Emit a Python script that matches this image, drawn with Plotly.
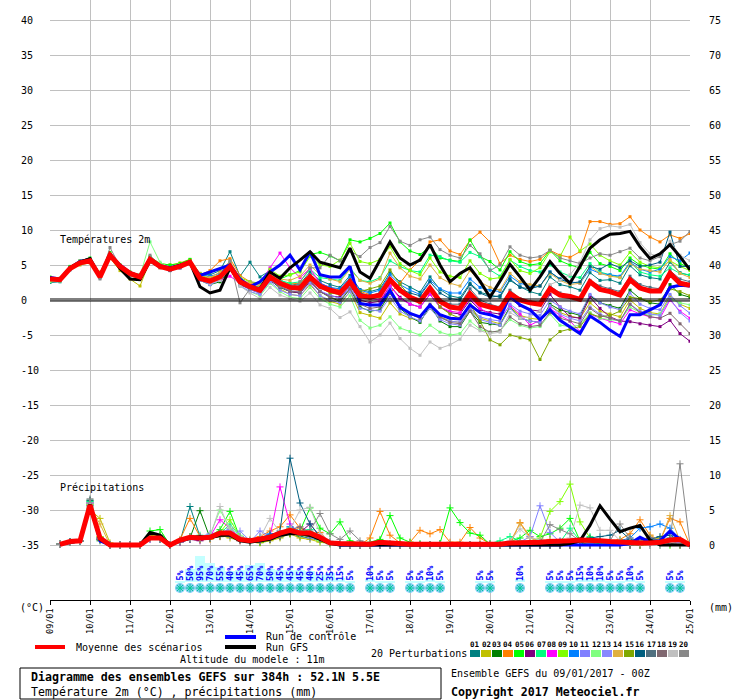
import plotly.graph_objects as go

# GEFS ensemble 09/01/2017 00Z, 52.1N 5.5E -- 2m temperature and 6h precipitation
hours = list(range(0, 385, 6))
precip_hours = hours[1:]
day_hours = list(range(0, 385, 24))
day_labels = ["09/01", "10/01", "11/01", "12/01", "13/01", "14/01", "15/01", "16/01", "17/01",
              "18/01", "19/01", "20/01", "21/01", "22/01", "23/01", "24/01", "25/01"]

# temperature 2m (°C), one value every 6h
t_mean = [3.0, 2.9, 4.5, 5.3, 5.6, 3.3, 6.4, 4.8, 3.8, 3.3, 5.8, 4.8, 4.4,
          4.8, 5.4, 3.1, 2.7, 3.3, 4.8, 2.6, 1.9, 1.4, 3.3, 2.4, 1.8, 1.7,
          3.3, 2.0, 1.4, 1.0, 2.6, 0.6, 0.4, 0.7, 2.9, 1.4, 0.4, -0.2, 1.7,
          -0.2, -1.0, -1.2, 0.9, -0.6, -1.0, -1.3, 0.9, 0.0, -0.4, -0.6, 1.6, 0.7,
          0.5, 0.1, 2.6, 1.5, 1.2, 0.7, 2.9, 1.7, 1.3, 1.3, 3.8, 2.4, 2.1]
t_gfs = [3.1, 2.9, 4.6, 5.4, 5.9, 3.4, 6.6, 4.5, 3.0, 2.9, 5.6, 4.7, 4.5,
         4.9, 5.4, 1.9, 1.0, 1.4, 4.6, 2.5, 1.8, 1.6, 4.0, 3.1, 4.6, 5.7,
         6.9, 5.4, 5.0, 4.6, 7.4, 4.0, 3.1, 5.7, 8.3, 6.0, 5.0, 5.7, 7.9,
         5.0, 2.6, 3.8, 4.6, 2.7, 0.4, 2.7, 5.1, 3.3, 1.4, 3.3, 5.5, 3.8,
         2.4, 4.8, 7.4, 8.6, 9.4, 9.5, 9.8, 7.6, 5.9, 6.6, 7.9, 6.2, 4.3]
t_ctrl = [3.2, 3.0, 4.6, 5.5, 5.8, 3.4, 6.5, 5.0, 3.9, 3.4, 5.9, 4.9, 4.6,
          4.9, 5.3, 3.5, 4.0, 4.5, 5.0, 3.0, 1.9, 2.6, 4.0, 5.0, 6.4, 4.3,
          6.9, 3.6, 3.3, 3.3, 4.8, -0.5, -0.7, -0.7, 1.4, -1.0, -1.9, -2.4, -0.7,
          -2.1, -2.6, -2.7, -0.7, -1.8, -2.1, -2.6, 0.7, -0.7, -1.4, -2.8, -1.4, -2.9,
          -3.8, -4.8, -2.3, -3.2, -4.3, -5.2, -2.1, -2.1, -1.4, -0.7, 1.8, 2.1, 2.0]

t_p01 = [2.5, 2.6, 4.3, 5.2, 5.5, 3.2, 6.3, 4.7, 3.7, 3.4, 5.7, 4.9, 4.6,
         5.0, 5.5, 3.8, 3.6, 4.2, 6.9, 3.4, 5.4, 3.3, 4.2, 2.9, 2.1, 2.3,
         4.0, 2.8, 2.2, 1.8, 3.5, 1.5, 1.2, 1.6, 3.9, 2.6, 1.8, 1.1, 3.3,
         1.5, 0.6, 0.3, 2.4, 1.1, 0.7, 0.4, 2.8, 1.9, 1.2, 0.8, 3.3, 2.2,
         1.9, 1.4, 3.9, 2.8, 2.9, 2.4, 4.9, 3.6, 3.2, 3.0, 5.4, 3.9, 3.5]
t_p02 = [3.2, 3.0, 4.4, 5.0, 5.3, 4.0, 6.0, 4.2, 3.0, 2.0, 5.6, 5.2, 5.0,
         5.3, 5.8, 3.8, 3.2, 3.6, 5.2, 3.0, 2.2, 1.6, 3.0, 1.6, 0.8, 0.6,
         2.2, 0.6, -0.2, -0.6, 1.2, -1.8, -2.2, -2.6, -0.4, -2.0, -2.6, -3.0, -1.2,
         -2.4, -3.0, -3.2, -1.4, -2.6, -3.0, -3.4, -1.0, -2.2, -2.6, -2.8, -0.8, -1.8,
         -2.3, -2.6, -0.4, -1.6, -2.0, -2.4, 0.0, -1.2, -1.8, -2.0, 0.6, -0.6, -1.2]
t_p03 = [3.1, 2.9, 4.6, 5.4, 5.7, 3.4, 6.3, 4.9, 3.9, 3.4, 5.9, 4.7, 4.2,
         4.6, 5.2, 2.8, 2.2, 2.6, 4.4, 2.2, 1.6, 1.0, 2.8, 1.8, 1.2, 1.0,
         2.8, 1.2, 0.4, -0.2, 1.6, -1.0, -1.6, -1.4, 1.0, -1.2, -2.4, -3.2, -0.8,
         -3.0, -3.8, -3.8, -1.6, -3.2, -3.4, -3.6, -1.0, -2.6, -3.0, -3.2, -0.6, -1.4,
         -1.8, -2.2, 0.6, -0.4, -0.8, -1.2, 1.4, 0.2, -0.4, -0.6, 2.2, 0.8, 0.4]
t_p04 = [3.0, 2.8, 4.5, 5.2, 5.5, 3.4, 6.2, 4.6, 3.5, 3.0, 5.5, 4.6, 4.3,
         4.9, 5.6, 3.6, 4.2, 5.6, 5.9, 3.5, 2.6, 2.0, 3.6, 2.6, 2.3, 2.4,
         3.6, 2.2, 1.8, 1.4, 2.8, 1.2, 0.8, 0.4, 1.0, 2.4, 4.3, 5.7, 8.3,
         8.6, 7.0, 6.5, 8.5, 9.7, 8.3, 5.2, 6.4, 5.8, 5.5, 5.8, 7.1, 6.4,
         6.1, 6.9, 11.2, 11.2, 10.8, 10.9, 11.9, 10.0, 9.0, 8.3, 9.3, 8.8, 9.5]
t_p05 = [3.3, 3.1, 4.8, 5.6, 6.0, 3.6, 6.8, 5.0, 4.0, 3.6, 6.2, 5.2, 5.0,
         5.2, 5.8, 3.6, 3.0, 3.4, 5.0, 2.8, 2.0, 1.8, 3.8, 3.0, 3.6, 4.2,
         6.5, 6.8, 6.3, 5.6, 8.6, 8.3, 8.8, 9.5, 11.0, 8.3, 7.0, 6.5, 7.6,
         6.0, 5.7, 5.5, 8.6, 6.2, 5.5, 4.3, 6.9, 5.5, 5.0, 5.2, 7.1, 5.6,
         5.0, 4.6, 6.8, 5.2, 4.8, 4.2, 6.0, 5.0, 4.6, 4.4, 6.6, 5.2, 4.6]
t_p06 = [3.0, 3.0, 4.4, 5.2, 5.5, 3.2, 6.4, 4.7, 3.7, 3.2, 5.6, 4.7, 4.3,
         4.6, 5.2, 3.0, 2.5, 3.0, 4.4, 2.2, 1.5, 1.0, 2.8, 1.9, 1.2, 1.0,
         2.6, 1.2, 0.6, 0.4, 2.0, 0.0, -0.4, -0.2, 2.0, 0.4, -0.6, -1.0, 0.8,
         -1.0, -1.8, -2.0, 0.0, -1.4, -1.8, -2.0, 0.2, -0.8, -1.4, -1.6, 0.8, -1.0,
         -2.4, -2.6, 0.4, -1.2, -2.4, -3.0, -3.1, -3.4, -3.6, -3.8, -2.9, -4.8, -5.9]
t_p07 = [3.0, 2.9, 4.6, 5.4, 5.7, 3.3, 6.6, 4.9, 3.9, 3.4, 6.0, 4.9, 4.4,
         4.9, 5.5, 3.2, 2.8, 3.4, 5.0, 2.8, 2.2, 1.8, 3.8, 2.8, 2.4, 2.6,
         4.4, 3.2, 3.0, 2.8, 4.6, 2.8, 2.6, 3.2, 5.6, 4.8, 4.2, 4.0, 6.4,
         6.2, 5.6, 5.4, 6.8, 6.2, 4.3, 3.4, 5.7, 4.8, 4.2, 4.0, 5.0, 4.0,
         3.4, 3.2, 5.2, 4.0, 3.6, 3.2, 5.4, 4.0, 3.6, 3.4, 4.6, 3.8, 3.6]
t_p08 = [3.1, 3.0, 4.6, 5.3, 5.7, 3.4, 6.5, 4.9, 3.9, 3.4, 5.8, 4.9, 4.5,
         4.8, 5.3, 3.0, 2.6, 2.8, 3.4, 2.4, 2.6, 2.4, 4.6, 6.7, 4.6, 3.2,
         4.5, 2.4, 1.8, 1.2, 2.8, 0.4, 0.2, 0.0, 2.0, 0.2, -0.6, -1.0, 0.8,
         -1.0, -1.6, -1.8, 0.2, -1.2, -2.0, -2.6, -0.8, -2.0, -3.6, -2.9, -1.2, -2.2,
         -3.0, -4.5, -2.0, -2.6, -3.0, -3.4, -1.4, -2.0, -2.4, -2.6, 0.0, -1.6, -2.6]
t_p09 = [3.0, 2.9, 4.7, 5.4, 5.8, 3.4, 6.6, 5.0, 3.9, 3.3, 6.0, 5.0, 4.6,
         5.0, 5.6, 3.4, 3.0, 3.6, 5.3, 3.2, 2.6, 2.4, 4.4, 3.4, 3.6, 4.0,
         6.2, 5.0, 4.8, 5.7, 8.1, 5.5, 5.2, 5.8, 7.6, 5.2, 4.2, 3.6, 6.0,
         4.0, 3.4, 3.2, 5.6, 3.8, 3.0, 3.2, 5.8, 4.2, 3.8, 4.6, 6.9, 6.2,
         9.0, 7.0, 8.0, 6.4, 5.6, 5.0, 6.8, 5.4, 4.8, 4.6, 5.6, 4.8, 4.2]
t_p10 = [3.1, 3.0, 4.6, 5.4, 5.7, 3.4, 6.4, 4.8, 3.8, 3.4, 5.9, 4.9, 4.5,
         4.9, 5.5, 3.6, 3.4, 3.8, 5.4, 3.0, 2.2, 1.6, 3.4, 2.6, 2.0, 2.0,
         3.6, 2.4, 1.8, 1.6, 3.2, 1.4, 1.0, 1.4, 3.6, 2.2, 1.4, 0.8, 2.8,
         1.6, 1.0, 1.0, 3.0, 1.8, 1.4, 1.2, 3.4, 2.4, 2.0, 2.0, 4.0, 3.0,
         2.6, 2.4, 4.4, 3.8, 3.6, 3.4, 5.4, 4.4, 4.0, 4.4, 6.2, 5.6, 6.7]
t_p11 = [3.0, 2.9, 4.5, 5.3, 5.6, 3.2, 6.3, 4.7, 3.7, 3.2, 5.7, 4.7, 4.3,
         4.7, 5.3, 2.9, 2.4, 3.0, 4.6, 2.3, 1.5, 1.0, 2.9, 1.9, 1.3, 1.2,
         2.8, 1.3, 0.7, 0.2, 1.8, -0.4, -0.8, -0.6, 1.6, -0.8, -2.0, -2.6, -0.8,
         -2.6, -3.0, -3.2, -1.2, -2.4, -2.8, -3.0, -0.6, -1.6, -2.0, -2.2, 0.0, -1.0,
         -1.6, -2.0, 0.8, -0.4, -1.0, -1.4, 1.0, -0.6, -1.2, -1.4, 0.8, -0.8, -1.9]
t_p12 = [2.6, 2.7, 4.5, 5.3, 5.6, 3.4, 6.6, 5.0, 3.8, 3.4, 8.3, 5.4, 4.6,
         5.0, 5.4, 3.0, 2.4, 2.8, 4.4, 2.0, 1.2, 0.6, 2.4, 1.2, 0.4, 0.2,
         1.8, 0.2, -0.6, -1.0, 0.6, -2.9, -4.0, -3.6, -2.4, -4.0, -4.5, -5.0, -3.6,
         -4.6, -5.0, -4.8, -3.0, -4.2, -4.6, -4.4, -2.8, -3.6, -4.0, -3.8, -2.0, -3.6,
         -3.8, -3.6, -1.8, -2.6, -2.8, -3.0, -1.0, -1.8, -2.2, -2.0, 0.2, -0.4, -0.7]
t_p13 = [3.0, 2.8, 4.4, 5.2, 5.5, 3.2, 6.2, 4.6, 3.6, 3.1, 5.6, 4.6, 4.2,
         4.6, 5.1, 2.8, 2.2, 2.8, 4.4, 2.0, 1.2, 0.8, 2.6, 1.4, 0.8, 0.6,
         2.4, 0.6, 0.0, -0.4, 1.2, -1.2, -1.4, -1.6, 0.4, -1.6, -2.4, -3.0, -1.2,
         -2.8, -3.4, -3.6, -1.4, -2.8, -3.2, -3.6, -1.2, -2.6, -3.0, -3.2, -0.8, -2.0,
         -2.6, -3.0, -1.0, -2.0, -2.6, -3.0, -0.6, -1.6, -2.0, -2.2, 0.2, -1.8, -3.0]
t_p14 = [3.1, 2.9, 4.5, 5.2, 5.4, 3.2, 6.2, 4.6, 3.6, 3.2, 5.4, 4.6, 4.4,
         4.8, 5.4, 3.4, 3.2, 4.0, 5.6, 3.0, 2.4, 2.0, 3.8, 3.0, 2.8, 3.4,
         5.0, 3.6, 3.0, 2.6, 4.4, 2.8, 2.4, 3.0, 6.7, 4.6, 3.4, 3.0, 5.0,
         3.2, 2.4, 2.0, 4.2, 2.6, 1.8, 1.4, 3.8, 2.6, 2.2, 2.0, 3.8, 2.8,
         2.2, 2.4, 4.8, 3.8, 3.4, 3.2, 5.2, 4.4, 4.2, 4.0, 5.8, 3.8, 3.2]
t_p15 = [3.0, 2.9, 4.5, 5.3, 5.6, 3.3, 6.3, 4.7, 3.7, 3.3, 5.8, 4.8, 4.4,
         4.8, 5.3, 3.0, 2.6, 3.2, 4.8, 2.6, 1.8, 1.4, 3.2, 2.2, 1.6, 1.4,
         3.2, 1.8, 1.0, 0.8, 2.6, 1.2, 1.6, 2.0, 4.3, 2.2, 0.6, -0.4, 1.4,
         -1.0, -2.0, -2.6, -0.6, -3.0, -5.7, -6.4, -5.0, -5.4, -5.7, -8.5, -5.7, -4.5,
         -4.2, -3.8, -2.0, -2.4, -2.2, -1.6, 0.4, 0.2, -0.2, 0.0, 1.6, 1.2, 0.6]
t_p16 = [3.1, 3.0, 4.7, 5.4, 5.6, 3.4, 6.4, 4.8, 3.8, 3.5, 5.8, 4.8, 4.3,
         4.7, 5.2, 3.2, 2.8, 3.2, 4.6, 2.6, 2.0, 1.6, 3.2, 2.4, 1.8, 1.6,
         3.2, 2.0, 1.6, 1.2, 2.8, 1.0, 0.6, 1.0, 3.0, 1.6, 1.0, 0.6, 2.6,
         1.0, 0.2, 0.0, 2.2, 1.0, 0.4, 0.6, 3.0, 1.8, 1.6, 2.0, 4.0, 3.0,
         2.4, 2.6, 4.8, 4.4, 5.2, 4.6, 5.6, 4.8, 5.0, 5.4, 9.7, 4.8, 4.8]
t_p17 = [3.0, 2.9, 4.6, 5.3, 5.5, 3.3, 6.4, 4.8, 3.8, 3.3, 5.9, 4.8, 4.4,
         4.8, 5.4, 3.2, 2.8, 3.4, 5.0, 2.8, 2.0, 1.6, 3.4, 2.4, 1.8, 1.8,
         3.4, 2.2, 1.6, 1.2, 2.8, 0.6, 0.2, 0.8, 2.8, 1.2, 0.2, -0.4, 1.6,
         0.0, -0.6, -0.6, 1.6, 0.0, -0.6, -1.0, 1.4, 0.2, -0.2, -0.4, 2.0, 1.0,
         0.6, 0.2, 2.8, 2.0, 1.6, 1.2, 3.4, 2.2, 1.8, 1.6, 4.2, 3.0, 2.6]
t_p18 = [3.0, 2.9, 4.5, 5.3, 5.6, 3.3, 6.2, 4.7, 3.7, 3.3, 5.7, 4.7, 4.3,
         4.7, 5.3, 3.0, 2.5, 3.0, 4.6, 2.4, 1.6, 1.2, 3.0, 1.9, 1.3, 1.1,
         2.8, 1.2, 0.4, 0.0, 1.6, -0.6, -1.2, -1.0, 1.0, -1.0, -2.0, -2.6, -0.6,
         -2.4, -3.2, -3.4, -1.6, -3.8, -4.6, -4.4, -2.4, -3.4, -3.8, -3.6, -1.8, -2.6,
         -3.0, -3.4, -1.2, -2.2, -2.6, -3.0, -0.6, -1.8, -2.4, -2.6, -1.9, -3.4, -4.8]
t_p19 = [3.0, 2.9, 4.5, 5.3, 5.6, 3.3, 6.3, 4.8, 3.7, 3.3, 5.8, 4.8, 4.4,
         4.7, 5.2, 2.9, 2.4, 2.8, 4.4, 2.0, 1.0, 0.2, 1.8, 0.7, 0.2, -0.2,
         1.0, -0.7, -1.2, -2.5, -1.7, -3.8, -6.0, -5.0, -3.3, -5.5, -6.9, -7.9, -6.0,
         -6.9, -6.4, -5.6, -3.6, -4.4, -4.8, -4.6, -1.8, -2.6, -2.4, -1.6, 2.2, 2.8,
         3.6, 5.4, 8.6, 10.2, 10.6, 10.4, 10.8, 8.2, 6.6, 6.2, 8.4, 6.4, 5.6]
t_p20 = [3.0, 2.9, 4.6, 5.6, 5.9, 3.0, 7.5, 4.8, 3.4, 3.3, 6.4, 4.8, 4.4,
         4.8, 5.4, 3.0, 2.6, 3.2, 5.6, -0.4, 1.6, 1.8, 3.6, 2.0, 1.6, 2.6,
         4.6, 4.6, 6.4, 5.6, 7.0, 6.2, 7.5, 8.2, 10.5, 8.4, 7.8, 8.6, 9.0,
         7.2, 6.4, 6.0, 7.8, 6.6, 4.2, 5.0, 7.6, 6.4, 6.0, 6.2, 7.1, 6.0,
         5.6, 5.2, 6.0, 6.6, 6.4, 6.9, 7.4, 6.0, 5.6, 6.2, 7.9, 8.4, 9.8]

# precipitation (mm / 6h), from +6h
r_mean = [0.1, 0.5, 0.6, 5.7, 1.0, 0.0, 0.0, 0.0, 0.0, 1.0, 1.0, 0.0, 0.7, 1.1, 1.0, 1.1,
          1.7, 1.7, 0.8, 0.6, 0.8, 1.1, 1.7, 2.1, 1.7, 1.7, 1.1, 0.3, 0.2, 0.2, 0.1, 0.1,
          0.4, 0.3, 0.1, 0.1, 0.1, 0.1, 0.2, 0.1, 0.1, 0.1, 0.1, 0.1, 0.1, 0.3, 0.3, 0.3,
          0.4, 0.5, 0.5, 0.6, 0.7, 0.7, 0.6, 0.5, 0.4, 0.3, 0.3, 0.3, 0.4, 0.7, 0.8, 0.0]
r_gfs = [0.1, 0.4, 0.6, 5.8, 0.8, 0.0, 0.0, 0.0, 0.0, 1.8, 1.4, 0.0, 0.6, 1.0, 1.2, 1.0,
         1.4, 1.4, 0.6, 0.4, 0.6, 0.8, 1.4, 1.6, 1.6, 1.4, 0.8, 0.2, 0.0, 0.0, 0.0, 0.0,
         0.0, 0.0, 0.0, 0.0, 0.0, 0.0, 0.0, 0.0, 0.0, 0.0, 0.0, 0.0, 0.0, 0.0, 0.0, 0.0,
         0.0, 0.0, 0.0, 0.2, 0.6, 2.8, 5.6, 3.7, 1.9, 2.4, 2.8, 0.7, 0.0, 0.0, 0.0, 0.0]
r_ctrl = [0.1, 0.4, 0.6, 5.8, 0.6, 0.0, 0.0, 0.0, 0.0, 1.0, 1.0, 0.0, 0.6, 1.0, 1.0, 1.2,
          1.6, 1.6, 0.8, 0.6, 0.6, 1.0, 1.6, 2.0, 1.8, 1.4, 1.0, 0.4, 0.0, 0.0, 0.0, 0.0,
          0.0, 0.0, 0.0, 0.0, 0.0, 0.0, 0.0, 0.0, 0.0, 0.0, 0.0, 0.0, 0.0, 0.0, 0.0, 0.0,
          0.0, 0.0, 0.0, 0.0, 0.0, 0.0, 0.0, 0.0, 0.0, 0.2, 1.1, 0.4, 0.6, 2.0, 0.8, 0.0]

r_p01 = [0.1, 0.5, 0.6, 6.2, 0.8, 0.0, 0.0, 0.0, 0.0, 1.2, 0.8, 0.0, 0.5, 5.5, 1.2, 1.0,
         1.6, 2.0, 1.2, 0.5, 0.6, 0.8, 1.5, 1.8, 1.2, 1.0, 0.6, 0.2, 0.0, 0.2, 0.1, 0.0,
         0.6, 0.2, 0.0, 0.0, 0.0, 0.0, 0.2, 0.0, 0.0, 0.0, 0.0, 0.0, 0.0, 0.2, 0.0, 0.0,
         0.0, 0.6, 0.2, 0.0, 0.0, 0.0, 0.0, 0.0, 0.0, 0.4, 0.6, 0.3, 0.4, 1.0, 0.6, 0.0]
r_p02 = [0.1, 0.4, 0.5, 5.0, 3.8, 0.3, 0.0, 0.0, 0.0, 0.8, 1.0, 0.0, 0.4, 0.8, 0.8, 1.2,
         1.4, 1.0, 0.6, 0.4, 0.3, 0.6, 1.0, 1.6, 1.0, 0.8, 0.4, 0.2, 0.1, 0.0, 0.0, 0.0,
         0.1, 0.0, 0.0, 0.0, 0.0, 0.0, 0.0, 0.0, 0.0, 0.0, 0.0, 0.0, 0.0, 0.4, 0.2, 0.0,
         0.0, 0.3, 0.0, 0.2, 0.4, 0.6, 0.3, 0.0, 0.0, 0.0, 0.2, 0.6, 1.0, 0.6, 0.3, 0.0]
r_p03 = [0.1, 0.5, 0.6, 6.4, 0.6, 0.0, 0.0, 0.0, 0.0, 1.0, 1.4, 0.0, 0.6, 1.0, 4.9, 1.0,
         1.8, 1.4, 0.8, 0.4, 0.4, 0.8, 1.2, 1.6, 1.6, 1.2, 0.8, 0.2, 0.0, 0.0, 0.0, 0.0,
         0.0, 0.0, 0.0, 0.0, 0.0, 0.0, 0.0, 0.0, 0.0, 0.0, 0.0, 0.0, 0.0, 0.0, 0.0, 0.0,
         0.0, 0.0, 0.0, 0.0, 0.4, 0.0, 0.0, 0.0, 0.0, 0.0, 0.0, 0.0, 0.0, 0.4, 0.2, 0.0]
r_p04 = [0.1, 0.4, 0.6, 5.6, 1.2, 0.0, 0.0, 0.0, 0.0, 1.0, 0.8, 0.0, 0.8, 3.8, 1.2, 0.8,
         1.4, 1.8, 1.0, 0.8, 1.2, 2.0, 2.6, 4.3, 2.4, 1.6, 1.8, 0.4, 0.2, 0.0, 0.0, 1.0,
         4.8, 1.4, 0.3, 0.4, 2.1, 1.6, 2.2, 0.4, 0.4, 2.5, 1.0, 0.2, 0.0, 0.0, 3.2, 1.2,
         0.4, 0.8, 0.4, 0.2, 0.0, 0.0, 0.6, 0.4, 0.8, 1.6, 3.6, 1.4, 0.6, 3.8, 3.3, 0.0]
r_p05 = [0.1, 0.4, 0.6, 5.8, 0.8, 0.0, 0.0, 0.0, 0.0, 2.0, 2.2, 0.0, 0.6, 1.0, 0.8, 1.2,
         2.2, 4.8, 1.0, 0.6, 0.4, 0.8, 1.6, 2.4, 2.0, 5.3, 2.4, 1.6, 3.3, 0.6, 0.2, 0.4,
         0.8, 4.2, 1.0, 0.4, 0.2, 0.0, 0.2, 5.3, 3.2, 1.7, 1.4, 0.1, 0.0, 0.5, 1.0, 2.1,
         1.2, 1.6, 2.4, 3.8, 0.6, 0.4, 0.2, 0.0, 0.0, 0.0, 0.2, 0.4, 0.2, 0.0, 0.0, 0.0]
r_p06 = [0.1, 0.4, 0.6, 6.0, 1.0, 0.0, 0.0, 0.0, 0.0, 1.0, 1.0, 0.0, 0.4, 0.8, 0.6, 1.0,
         1.2, 1.8, 0.6, 0.4, 0.6, 1.0, 1.4, 2.2, 1.8, 3.0, 1.2, 0.2, 0.0, 0.0, 0.0, 0.0,
         0.0, 0.0, 0.0, 0.0, 0.0, 0.0, 0.0, 0.0, 0.0, 0.0, 0.0, 0.0, 0.0, 0.0, 0.0, 0.0,
         0.0, 0.0, 0.0, 0.0, 0.0, 0.0, 0.0, 0.0, 0.0, 0.0, 0.8, 1.0, 0.6, 0.4, 0.2, 0.0]
r_p07 = [0.1, 0.5, 0.6, 6.2, 1.0, 0.0, 0.0, 0.0, 0.0, 1.2, 1.0, 0.0, 0.6, 1.2, 1.4, 1.0,
         1.6, 3.0, 1.2, 0.6, 1.0, 1.4, 1.2, 2.6, 2.0, 2.2, 1.0, 0.4, 0.0, 0.0, 0.1, 0.0,
         0.2, 0.0, 0.0, 0.0, 0.0, 0.0, 0.0, 0.0, 0.0, 0.0, 0.0, 0.2, 0.6, 1.2, 0.6, 0.4,
         0.2, 0.0, 0.4, 2.4, 0.6, 1.2, 0.4, 0.0, 0.0, 0.2, 0.0, 0.4, 0.6, 0.8, 0.4, 0.0]
r_p08 = [0.1, 0.4, 0.6, 6.0, 0.8, 0.0, 0.0, 0.0, 0.0, 0.8, 1.0, 0.0, 0.4, 1.0, 1.2, 1.2,
         3.6, 2.4, 1.0, 0.6, 0.8, 1.2, 8.3, 3.0, 1.6, 1.2, 0.8, 0.2, 0.0, 0.0, 0.0, 0.0,
         0.0, 0.0, 0.0, 0.0, 0.0, 0.0, 0.0, 0.0, 0.0, 0.0, 0.0, 0.0, 0.0, 0.0, 0.0, 0.0,
         0.0, 0.0, 0.0, 0.4, 0.0, 0.0, 0.0, 0.0, 0.0, 0.0, 0.0, 0.0, 0.2, 0.6, 0.4, 0.0]
r_p09 = [0.1, 0.4, 0.6, 5.8, 1.2, 0.0, 0.0, 0.0, 0.0, 1.4, 1.2, 0.0, 0.6, 1.2, 1.0, 1.0,
         1.8, 3.6, 1.2, 0.6, 0.4, 0.8, 1.4, 1.8, 1.6, 1.4, 0.6, 0.2, 0.0, 0.0, 0.0, 0.0,
         0.0, 0.0, 0.0, 0.0, 0.0, 0.0, 0.0, 0.0, 0.0, 0.0, 0.0, 0.0, 0.0, 0.0, 0.0, 0.4,
         1.0, 4.8, 6.2, 8.7, 3.3, 1.0, 0.4, 0.0, 0.7, 0.4, 0.0, 0.0, 0.0, 0.0, 0.0, 0.0]
r_p10 = [0.1, 0.4, 0.5, 5.6, 0.8, 0.0, 0.0, 0.0, 0.0, 1.0, 0.8, 0.0, 0.6, 0.8, 1.0, 1.2,
         1.6, 1.6, 0.8, 0.6, 1.0, 1.6, 1.6, 2.6, 2.0, 1.8, 1.0, 0.4, 0.2, 0.0, 0.0, 0.0,
         0.0, 0.0, 0.0, 0.0, 0.0, 0.0, 0.0, 0.0, 0.0, 0.0, 0.0, 0.0, 0.0, 0.2, 0.0, 0.0,
         0.2, 0.4, 0.6, 0.2, 0.0, 0.0, 0.0, 0.4, 0.6, 1.0, 2.4, 2.6, 3.0, 2.4, 0.8, 0.0]
r_p11 = [0.1, 0.4, 0.6, 6.0, 1.0, 0.0, 0.0, 0.0, 0.0, 0.8, 1.0, 0.0, 0.6, 1.0, 1.2, 1.6,
         1.8, 2.2, 1.0, 0.4, 2.0, 1.2, 1.2, 2.0, 1.6, 1.4, 1.2, 0.4, 0.0, 0.0, 0.0, 0.0,
         0.0, 0.0, 0.0, 0.0, 0.0, 0.0, 0.0, 0.0, 0.0, 0.0, 0.0, 0.0, 0.0, 0.0, 0.4, 1.2,
         5.6, 1.8, 0.4, 0.2, 0.0, 0.0, 0.0, 0.0, 0.0, 0.0, 0.4, 0.6, 0.4, 0.8, 0.4, 0.0]
r_p12 = [0.1, 0.4, 0.6, 5.8, 1.0, 0.0, 0.0, 0.0, 0.0, 1.0, 1.2, 0.0, 0.6, 1.0, 1.2, 1.4,
         5.0, 2.4, 1.4, 0.6, 0.6, 1.0, 1.4, 1.8, 1.4, 1.2, 0.6, 0.2, 0.0, 0.0, 0.2, 0.0,
         0.2, 0.0, 0.0, 0.0, 0.0, 0.0, 0.0, 0.0, 0.0, 0.0, 0.0, 0.0, 0.0, 0.0, 0.2, 0.6,
         0.4, 0.0, 0.0, 0.2, 0.0, 0.0, 0.0, 0.0, 0.0, 0.0, 0.0, 0.0, 0.0, 0.0, 0.0, 0.0]
r_p13 = [0.1, 0.4, 0.6, 5.4, 0.8, 0.0, 0.0, 0.0, 0.0, 1.0, 1.0, 0.0, 0.4, 0.8, 1.0, 1.0,
         1.6, 1.2, 2.0, 0.6, 0.6, 0.8, 1.6, 2.2, 1.6, 1.0, 0.8, 0.4, 0.0, 0.0, 0.0, 0.0,
         0.0, 0.0, 0.0, 0.0, 0.0, 0.0, 0.0, 0.0, 0.0, 0.0, 0.0, 0.0, 0.0, 0.0, 0.0, 0.0,
         0.0, 0.0, 0.0, 0.0, 0.0, 0.0, 0.0, 0.0, 0.0, 0.2, 0.4, 0.0, 0.0, 0.2, 0.0, 0.0]
r_p14 = [0.1, 0.4, 0.6, 5.4, 3.0, 0.0, 0.0, 0.0, 0.0, 1.0, 1.0, 0.0, 0.6, 1.0, 0.8, 1.0,
         1.4, 1.6, 0.8, 0.6, 0.6, 1.0, 1.8, 2.4, 2.0, 1.6, 1.0, 0.4, 0.0, 0.0, 0.0, 0.0,
         0.0, 0.0, 0.0, 0.0, 0.0, 0.0, 0.0, 0.0, 0.0, 0.0, 0.0, 0.0, 0.0, 0.4, 3.1, 1.0,
         0.4, 0.6, 0.2, 0.0, 0.0, 0.0, 0.0, 0.0, 0.0, 0.6, 0.4, 1.4, 0.6, 4.2, 0.6, 0.0]
r_p15 = [0.1, 0.4, 0.6, 5.2, 1.0, 0.0, 0.0, 0.0, 0.0, 1.0, 1.0, 0.0, 0.6, 1.0, 1.0, 1.0,
         1.2, 1.4, 0.8, 0.4, 0.4, 0.8, 1.2, 1.6, 1.4, 1.2, 0.8, 0.4, 0.0, 0.0, 0.0, 0.0,
         0.0, 0.0, 0.0, 0.0, 0.0, 0.0, 0.0, 0.0, 0.0, 0.0, 0.0, 0.0, 0.0, 0.0, 0.0, 0.0,
         0.0, 0.0, 0.0, 0.0, 0.0, 0.4, 0.0, 0.2, 0.0, 0.0, 0.0, 0.6, 0.4, 0.2, 0.0, 0.0]
r_p16 = [0.1, 0.5, 0.6, 6.4, 1.0, 0.0, 0.0, 0.0, 0.0, 1.2, 1.0, 0.0, 0.6, 1.0, 1.0, 1.0,
         1.6, 1.6, 0.8, 0.6, 0.8, 1.4, 2.0, 12.4, 6.0, 3.0, 1.2, 0.4, 0.0, 0.0, 0.0, 0.0,
         0.0, 0.0, 0.0, 0.0, 0.0, 0.0, 0.0, 0.0, 0.0, 0.0, 0.0, 0.0, 0.0, 0.0, 0.0, 0.0,
         0.0, 0.0, 0.0, 0.0, 0.0, 1.0, 1.2, 1.4, 2.1, 0.8, 0.4, 0.8, 1.2, 1.4, 0.6, 0.0]
r_p17 = [0.1, 0.4, 0.6, 6.0, 0.8, 0.0, 0.0, 0.0, 0.0, 1.0, 1.0, 0.0, 0.6, 1.2, 1.0, 1.2,
         1.8, 1.6, 1.2, 0.6, 0.6, 0.8, 1.4, 2.2, 1.8, 1.4, 1.0, 0.4, 0.0, 0.0, 0.0, 0.0,
         0.0, 0.0, 0.0, 0.0, 0.0, 0.0, 0.0, 0.0, 0.0, 0.0, 0.0, 0.0, 0.0, 0.0, 0.0, 0.0,
         0.0, 0.0, 0.0, 0.0, 0.0, 0.0, 0.0, 0.0, 0.0, 0.0, 0.4, 1.0, 0.6, 0.8, 0.6, 0.0]
r_p18 = [0.1, 0.4, 0.6, 5.6, 0.8, 0.0, 0.0, 0.0, 0.0, 1.0, 1.0, 0.0, 0.4, 0.8, 1.0, 1.0,
         1.4, 1.6, 1.0, 0.4, 0.6, 0.8, 1.2, 2.2, 2.6, 1.8, 0.8, 0.4, 0.0, 0.0, 0.0, 0.0,
         0.0, 0.0, 0.0, 0.0, 0.0, 0.0, 0.0, 0.0, 0.0, 0.0, 0.0, 0.0, 0.0, 0.0, 0.0, 0.0,
         0.0, 0.0, 0.0, 0.0, 0.0, 0.0, 0.0, 0.0, 0.0, 0.0, 0.0, 0.2, 0.4, 0.2, 0.0, 0.0]
r_p19 = [0.1, 0.4, 0.6, 6.0, 1.0, 0.0, 0.0, 0.0, 0.0, 1.0, 1.0, 0.0, 0.6, 1.0, 1.0, 1.2,
         5.5, 2.0, 1.2, 0.8, 1.0, 3.8, 1.8, 2.2, 5.0, 5.4, 1.6, 0.6, 0.2, 0.0, 0.0, 0.0,
         0.0, 0.0, 0.0, 0.0, 0.0, 0.0, 0.0, 0.0, 0.0, 0.0, 0.0, 0.0, 0.0, 0.6, 2.3, 1.0,
         0.8, 0.6, 0.4, 1.0, 5.7, 5.3, 2.1, 2.1, 0.6, 0.4, 0.2, 0.0, 0.0, 0.4, 0.2, 0.0]
r_p20 = [0.1, 0.4, 0.6, 6.6, 1.0, 0.0, 0.0, 0.0, 0.0, 1.0, 0.8, 0.0, 0.6, 1.0, 1.2, 1.0,
         1.6, 1.4, 0.8, 0.6, 0.6, 1.0, 1.6, 2.0, 1.8, 2.0, 4.5, 1.6, 0.8, 2.0, 0.6, 0.2,
         0.0, 0.0, 0.0, 0.0, 0.0, 0.0, 0.0, 0.0, 0.0, 0.0, 0.0, 0.0, 0.0, 0.0, 0.0, 0.0,
         0.4, 2.9, 2.2, 1.6, 0.6, 0.2, 0.0, 0.6, 3.0, 1.0, 0.4, 0.2, 0.4, 0.8, 11.6, 0.0]

member_names = ["01", "02", "03", "04", "05", "06", "07", "08", "09", "10",
                "11", "12", "13", "14", "15", "16", "17", "18", "19", "20"]
member_colors = ["#008080", "#c0c000", "#008000", "#ff8000", "#00ff00", "#800080", "#00ff80",
                 "#ff00ff", "#80ff00", "#0080ff", "#8080ff", "#80ff80", "#8888ff", "#e0b040",
                 "#80a800", "#005f80", "#507080", "#806870", "#c0c0c0", "#888888"]
temp_members = [t_p01, t_p02, t_p03, t_p04, t_p05, t_p06, t_p07, t_p08, t_p09, t_p10,
                t_p11, t_p12, t_p13, t_p14, t_p15, t_p16, t_p17, t_p18, t_p19, t_p20]
rain_members = [r_p01, r_p02, r_p03, r_p04, r_p05, r_p06, r_p07, r_p08, r_p09, r_p10,
                r_p11, r_p12, r_p13, r_p14, r_p15, r_p16, r_p17, r_p18, r_p19, r_p20]

# probability of snow per 6h step
snow_hours = [78, 84, 90, 96, 102, 108, 114, 120, 126, 132, 138, 144, 150, 156, 162, 168, 174, 180,
              192, 198, 204, 216, 222, 228, 234, 258, 264, 282,
              300, 306, 312, 318, 324, 330, 336, 342, 348, 354, 372, 378]
snow_pct = [5, 50, 95, 70, 55, 40, 45, 65, 70, 50, 45, 45, 45, 40, 25, 35, 15, 5,
            10, 5, 5, 5, 5, 10, 5, 5, 5, 10,
            5, 5, 5, 15, 10, 10, 5, 5, 10, 5, 5, 5]

temp_ticks = list(range(-35, 41, 5))
rain_ticks = list(range(0, 76, 5))

FONT = "DejaVu Sans Mono"
W, H = 740, 700
L, R, T, B = 50, 50, 0, 100


def px_x(px):
    return (px - L) / (W - L - R)


def px_y(py):
    return (H - B - py) / (H - T - B)


fig = go.Figure()

# snow probability: light bar + flake icons (drawn first, labels come as annotations)
fig.add_trace(go.Bar(
    x=snow_hours, y=[p * 0.0386 for p in snow_pct], base=-5.3, width=6, yaxis='y2',
    marker=dict(color='#c4ffff', line=dict(width=0)), showlegend=False,
))
fig.add_trace(go.Scatter(
    x=snow_hours, y=[-6.15] * len(snow_hours), yaxis='y2', mode='markers',
    marker=dict(symbol='circle', size=10, color='#86cdf5', line=dict(width=0)),
    showlegend=False,
))
fig.add_trace(go.Scatter(
    x=snow_hours, y=[-6.15] * len(snow_hours), yaxis='y2', mode='markers',
    marker=dict(symbol='asterisk-open', size=7, line=dict(color='#d8f2ff', width=1)),
    showlegend=False,
))

for name, color, temps in zip(member_names, member_colors, temp_members):
    fig.add_trace(go.Scatter(
        x=hours, y=temps, mode='lines+markers', name=name,
        line=dict(color=color, width=1),
        marker=dict(color=color, size=3, symbol='square'),
        showlegend=False,
    ))
for name, color, rain in zip(member_names, member_colors, rain_members):
    fig.add_trace(go.Scatter(
        x=precip_hours, y=rain, yaxis='y2', mode='lines+markers', name=name,
        line=dict(color=color, width=1),
        marker=dict(symbol='cross-thin', size=5, line=dict(color=color, width=1)),
        showlegend=False,
    ))

fig.add_trace(go.Scatter(x=hours, y=t_ctrl, mode='lines', line=dict(color='#0000ff', width=3),
                         showlegend=False))
fig.add_trace(go.Scatter(x=precip_hours, y=r_ctrl, yaxis='y2', mode='lines',
                         line=dict(color='#0000ff', width=3), showlegend=False))
fig.add_trace(go.Scatter(x=hours, y=t_gfs, mode='lines', line=dict(color='#000000', width=3),
                         showlegend=False))
fig.add_trace(go.Scatter(x=precip_hours, y=r_gfs, yaxis='y2', mode='lines',
                         line=dict(color='#000000', width=3), showlegend=False))
fig.add_trace(go.Scatter(x=hours, y=t_mean, mode='lines', line=dict(color='#ff0000', width=5),
                         showlegend=False))
fig.add_trace(go.Scatter(x=precip_hours, y=r_mean, yaxis='y2', mode='lines',
                         line=dict(color='#ff0000', width=5), showlegend=False))

annotations = []
for h, p in zip(snow_hours, snow_pct):
    annotations.append(dict(
        x=h, y=-5.3, xref='x', yref='y2', text=f"<b>{p}%</b>", showarrow=False,
        textangle=-90, xanchor='center', yanchor='bottom', borderpad=0,
        font=dict(family=FONT, size=8.5, color='#0000ff'),
    ))

# left temperature labels (left aligned like the original)
for v in temp_ticks:
    annotations.append(dict(
        x=px_x(19), y=v, xref='paper', yref='y', text=str(v), showarrow=False,
        xanchor='left', yanchor='middle', font=dict(family=FONT, size=10, color='black'),
    ))


def label(px, py, text, size=10, anchor='left', bold=False):
    if bold:
        text = f"<b>{text}</b>"
    annotations.append(dict(
        x=px_x(px), y=px_y(py), xref='paper', yref='paper', text=text, showarrow=False,
        xanchor=anchor, yanchor='middle', borderpad=0,
        font=dict(family=FONT, size=size, color='black'),
    ))


label(59, 239, "Températures 2m")
label(59, 487, "Précipitations")
label(32, 607, "(°C)", anchor='center')
label(721, 607, "(mm)", anchor='center')
label(75, 647, "Moyenne des scénarios")
label(265, 636, "Run de contrôle")
label(265, 647, "Run GFS")
label(252, 659, "Altitude du modele : 11m", anchor='center')
label(370, 653, "20 Perturbations")
label(30, 677, "Diagramme des ensembles GEFS sur 384h : 52.1N 5.5E", size=11.6, bold=True)
label(30, 692, "Température 2m (°C) , précipitations (mm)", size=11.6)
label(450, 673, "Ensemble GEFS du 09/01/2017 - 00Z")
label(450, 692, "Copyright 2017 Meteociel.fr", size=11.6, bold=True)

shapes = [
    # double line at 0°C
    dict(type='line', xref='x', yref='y', x0=0, x1=384, y0=0.143, y1=0.143,
         line=dict(color='black', width=1)),
    dict(type='line', xref='x', yref='y', x0=0, x1=384, y0=-0.143, y1=-0.143,
         line=dict(color='black', width=1)),
    # legend lines
    dict(type='line', xref='paper', yref='paper', x0=px_x(35), x1=px_x(65), y0=px_y(647), y1=px_y(647),
         line=dict(color='#ff0000', width=4)),
    dict(type='line', xref='paper', yref='paper', x0=px_x(225), x1=px_x(256), y0=px_y(637), y1=px_y(637),
         line=dict(color='#0000ff', width=4)),
    dict(type='line', xref='paper', yref='paper', x0=px_x(225), x1=px_x(256), y0=px_y(647), y1=px_y(647),
         line=dict(color='#000000', width=4)),
    # title box
    dict(type='rect', xref='paper', yref='paper', x0=px_x(20), x1=px_x(441), y0=px_y(668), y1=px_y(699),
         line=dict(color='black', width=1), fillcolor='rgba(0,0,0,0)'),
]

# perturbation colour keys
for i, (name, color) in enumerate(zip(member_names, member_colors)):
    x0 = 470 + 11 * i
    shapes.append(dict(type='rect', xref='paper', yref='paper', x0=px_x(x0), x1=px_x(x0 + 10),
                       y0=px_y(657), y1=px_y(650), line=dict(width=0), fillcolor=color))
    annotations.append(dict(
        x=px_x(x0 + 5), y=px_y(644), xref='paper', yref='paper', text=f"<b>{name}</b>",
        showarrow=False, xanchor='center', yanchor='middle', borderpad=0,
        font=dict(family=FONT, size=7.5, color='black'),
    ))

fig.update_layout(
    width=W, height=H,
    margin=dict(l=L, r=R, t=T, b=B),
    plot_bgcolor='white', paper_bgcolor='white',
    font=dict(family=FONT, size=10, color='black'),
    showlegend=False,
    bargap=0,
    xaxis=dict(
        range=[0, 384], tickmode='array', tickvals=day_hours, ticktext=day_labels,
        tickangle=-90, tickfont=dict(family=FONT, size=8.5),
        showgrid=True, gridcolor='#c0c0c0', gridwidth=1, zeroline=False,
        showline=True, linecolor='black', linewidth=1,
        ticks='outside', ticklen=4, tickcolor='black',
    ),
    yaxis=dict(
        range=[-300 / 7, 300 / 7], tickmode='array', tickvals=temp_ticks,
        showticklabels=False, ticks='', showgrid=True, gridcolor='#c0c0c0', gridwidth=1,
        zeroline=False, showline=False,
    ),
    yaxis2=dict(
        range=[35 - 300 / 7, 35 + 300 / 7], overlaying='y', side='right',
        tickmode='array', tickvals=rain_ticks, ticks='', showgrid=False, zeroline=False,
        showline=False, ticklabelstandoff=18, tickfont=dict(family=FONT, size=10),
    ),
    annotations=annotations,
    shapes=shapes,
)

fig.write_html("out.html", config={'displayModeBar': False},
               post_script="document.body.style.margin='0';")
